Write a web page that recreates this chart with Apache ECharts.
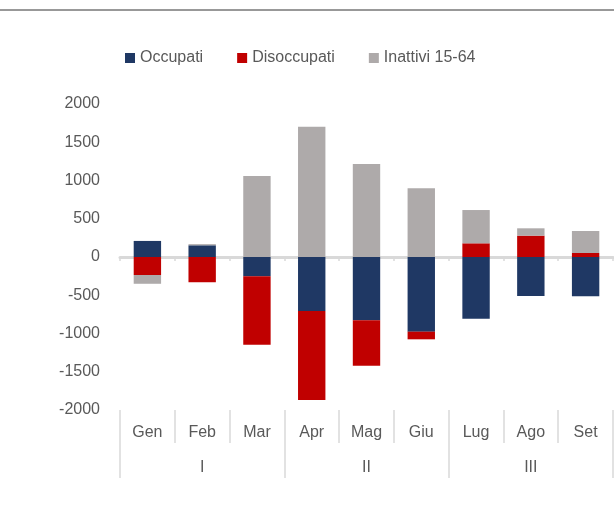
<!DOCTYPE html>
<html><head><meta charset="utf-8">
<script src="https://cdn.jsdelivr.net/npm/echarts@6/dist/echarts.min.js"></script>
<style>html,body{margin:0;padding:0;background:#fff}#c{width:614px;height:516px}</style>
</head><body><div id="c"></div>
<script>
const months = ['Gen','Feb','Mar','Apr','Mag','Giu','Lug','Ago','Set'];
const quarters = ['I','II','III'];
const occupati = [210, 153, -252, -706, -828, -976, -806, -510, -514];
const disoccupati = [-235, -330, -894, -1163, -593, -100, 179, 279, 52];
const inattivi = [-115, 15, 1059, 1703, 1216, 898, 435, 96, 288];
const yTicks = {min: -2000, max: 2000, interval: 500};

const txt = '#595959';
const font = 'Liberation Sans, Arial, sans-serif';
const chart = echarts.init(document.getElementById('c'));
chart.setOption({
  animation: false,
  textStyle: {fontFamily: font},
  graphic: [{type: 'line', shape: {x1: 0, y1: 10, x2: 614, y2: 10}, style: {stroke: '#333', lineWidth: 1}}],
  legend: {
    top: 45, left: 120, icon: 'rect', itemWidth: 10, itemHeight: 10, itemGap: 34,
    textStyle: {fontSize: 16, color: txt, fontFamily: font},
    data: ['Occupati', 'Disoccupati', 'Inattivi 15-64']
  },
  grid: {left: 120, right: 1, top: 104, bottom: 106, containLabel: false},
  xAxis: [
    {type: 'category', data: months, position: 'bottom',
     axisLine: {show: true, onZero: true, lineStyle: {color: '#d9d9d9', width: 3}},
     axisTick: {show: true, length: 4, lineStyle: {color: '#d9d9d9', width: 1.5}},
     axisLabel: {show: false}},
    {type: 'category', data: months, position: 'bottom',
     axisLine: {show: false, onZero: false}, axisTick: {show: true, length: 33, lineStyle: {color: '#d9d9d9', width: 1.5}},
     axisLabel: {fontSize: 16, color: txt, margin: 15}, splitLine: {show: false}},
    {type: 'category', data: quarters, position: 'bottom',
     axisLine: {show: false, onZero: false}, axisTick: {show: true, length: 68, lineStyle: {color: '#d9d9d9', width: 1.5}},
     axisLabel: {fontSize: 16, color: txt, margin: 50}}
  ],
  yAxis: {type: 'value', min: yTicks.min, max: yTicks.max, interval: yTicks.interval,
    axisLine: {show: false}, axisTick: {show: false}, splitLine: {show: false},
    axisLabel: {fontSize: 16, color: txt, margin: 20, formatter: v => String(v)}},
  series: [
    {name: 'Occupati', type: 'bar', stack: 'a', data: occupati, barWidth: '50%', itemStyle: {color: '#1f3864'}},
    {name: 'Disoccupati', type: 'bar', stack: 'a', data: disoccupati, barWidth: '50%', itemStyle: {color: '#c00000'}},
    {name: 'Inattivi 15-64', type: 'bar', stack: 'a', data: inattivi, barWidth: '50%', itemStyle: {color: '#aeaaaa'}}
  ]
});
</script></body></html>
